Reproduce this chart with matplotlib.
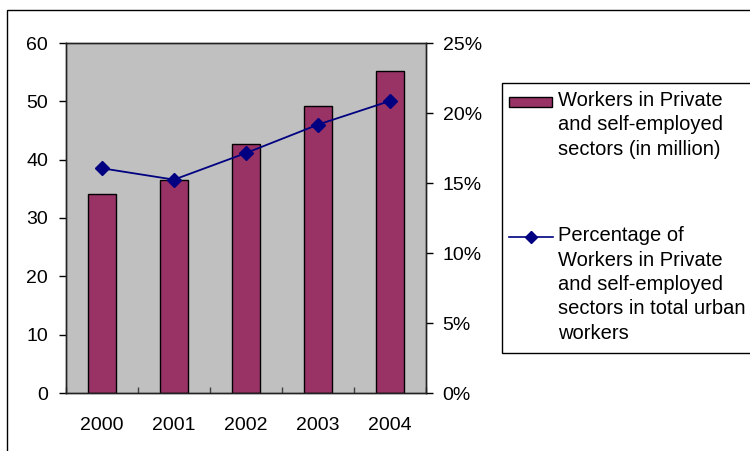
import matplotlib
matplotlib.use("Agg")
import matplotlib.pyplot as plt
from matplotlib.patches import Rectangle
from matplotlib.lines import Line2D
import numpy as np

plt.rcParams['font.family'] = ['Liberation Sans', 'DejaVu Sans']

years = ["2000", "2001", "2002", "2003", "2004"]
workers_million = [34.2, 36.5, 42.7, 49.2, 55.2]
share_pct = [16.05, 15.24, 17.14, 19.17, 20.86]
left_ticks = [0, 10, 20, 30, 40, 50, 60]
right_ticks = [0, 5, 10, 15, 20, 25]
bar_label = ["Workers in Private", "and self-employed", "sectors (in million)"]
line_label = ["Percentage of", "Workers in Private", "and self-employed",
              "sectors in total urban", "workers"]

W, H = 750, 451
FS = 14
LFS = 14.5
fig = plt.figure(figsize=(7.5, 4.51), dpi=100)

def fx(px):
    return px / W

def fy(py):
    return 1 - py / H

# outer chart border
fig.patches.append(Rectangle((fx(7), fy(470)), fx(800), fy(9.5) - fy(470),
                             transform=fig.transFigure, fill=False,
                             edgecolor='black', linewidth=1.0))

ax = fig.add_axes([fx(66), fy(393), fx(426) - fx(66), fy(43) - fy(393)])
ax.set_facecolor('#C0C0C0')
x = np.arange(len(years))
ax.bar(x, workers_million, width=0.39, color='#993366', edgecolor='black', linewidth=1.0, zorder=2)
ax.set_xlim(-0.5, len(years) - 0.5)
ax.set_ylim(0, 60)
ax.set_yticks(left_ticks)
ax.set_yticklabels([str(v) for v in left_ticks])
ax.set_xticks(x)
ax.set_xticklabels(years)
ax.set_xticks(np.arange(-0.5, len(years)), minor=True)
ax.tick_params(axis='x', which='major', length=0, pad=17, labelsize=FS)
ax.tick_params(axis='x', which='minor', direction='in', length=4, width=1, color='#404040')
ax.tick_params(axis='y', direction='out', length=5, width=1, pad=8, labelsize=FS)
for s in ax.spines.values():
    s.set_linewidth(1.0)
    s.set_color('#222222')

ax2 = ax.twinx()
ax2.plot(x, share_pct, color='#000080', linewidth=1.3, marker='D', markersize=7,
         markerfacecolor='#000080', markeredgecolor='#000080', zorder=3)
ax2.set_ylim(0, 25)
ax2.set_yticks(right_ticks)
ax2.set_yticklabels([f"{v}%" for v in right_ticks])
ax2.tick_params(axis='y', direction='out', length=5, width=1, pad=7, labelsize=FS)
for s in ax2.spines.values():
    s.set_linewidth(1.0)
    s.set_color('#222222')

# legend (drawn manually)
fig.patches.append(Rectangle((fx(502), fy(353)), fx(800) - fx(502), fy(83) - fy(353),
                             transform=fig.transFigure, facecolor='white',
                             edgecolor='black', linewidth=1.0))
fig.patches.append(Rectangle((fx(509), fy(107)), fx(43), fy(97) - fy(107),
                             transform=fig.transFigure, facecolor='#993366',
                             edgecolor='black', linewidth=1.0))
fig.lines.append(Line2D([fx(509), fx(553)], [fy(236.5), fy(236.5)], transform=fig.transFigure,
                        color='#000080', linewidth=1.2))
fig.lines.append(Line2D([fx(531)], [fy(236.5)], transform=fig.transFigure,
                        color='#000080', marker='D', markersize=6, linestyle='None'))

PITCH = 24.5
for i, line in enumerate(bar_label):
    fig.text(fx(558), fy(106 + i * PITCH), line, ha='left', va='baseline', fontsize=LFS)
for i, line in enumerate(line_label):
    fig.text(fx(558), fy(241 + i * PITCH), line, ha='left', va='baseline', fontsize=LFS)

fig.savefig('out.png', dpi=100)
